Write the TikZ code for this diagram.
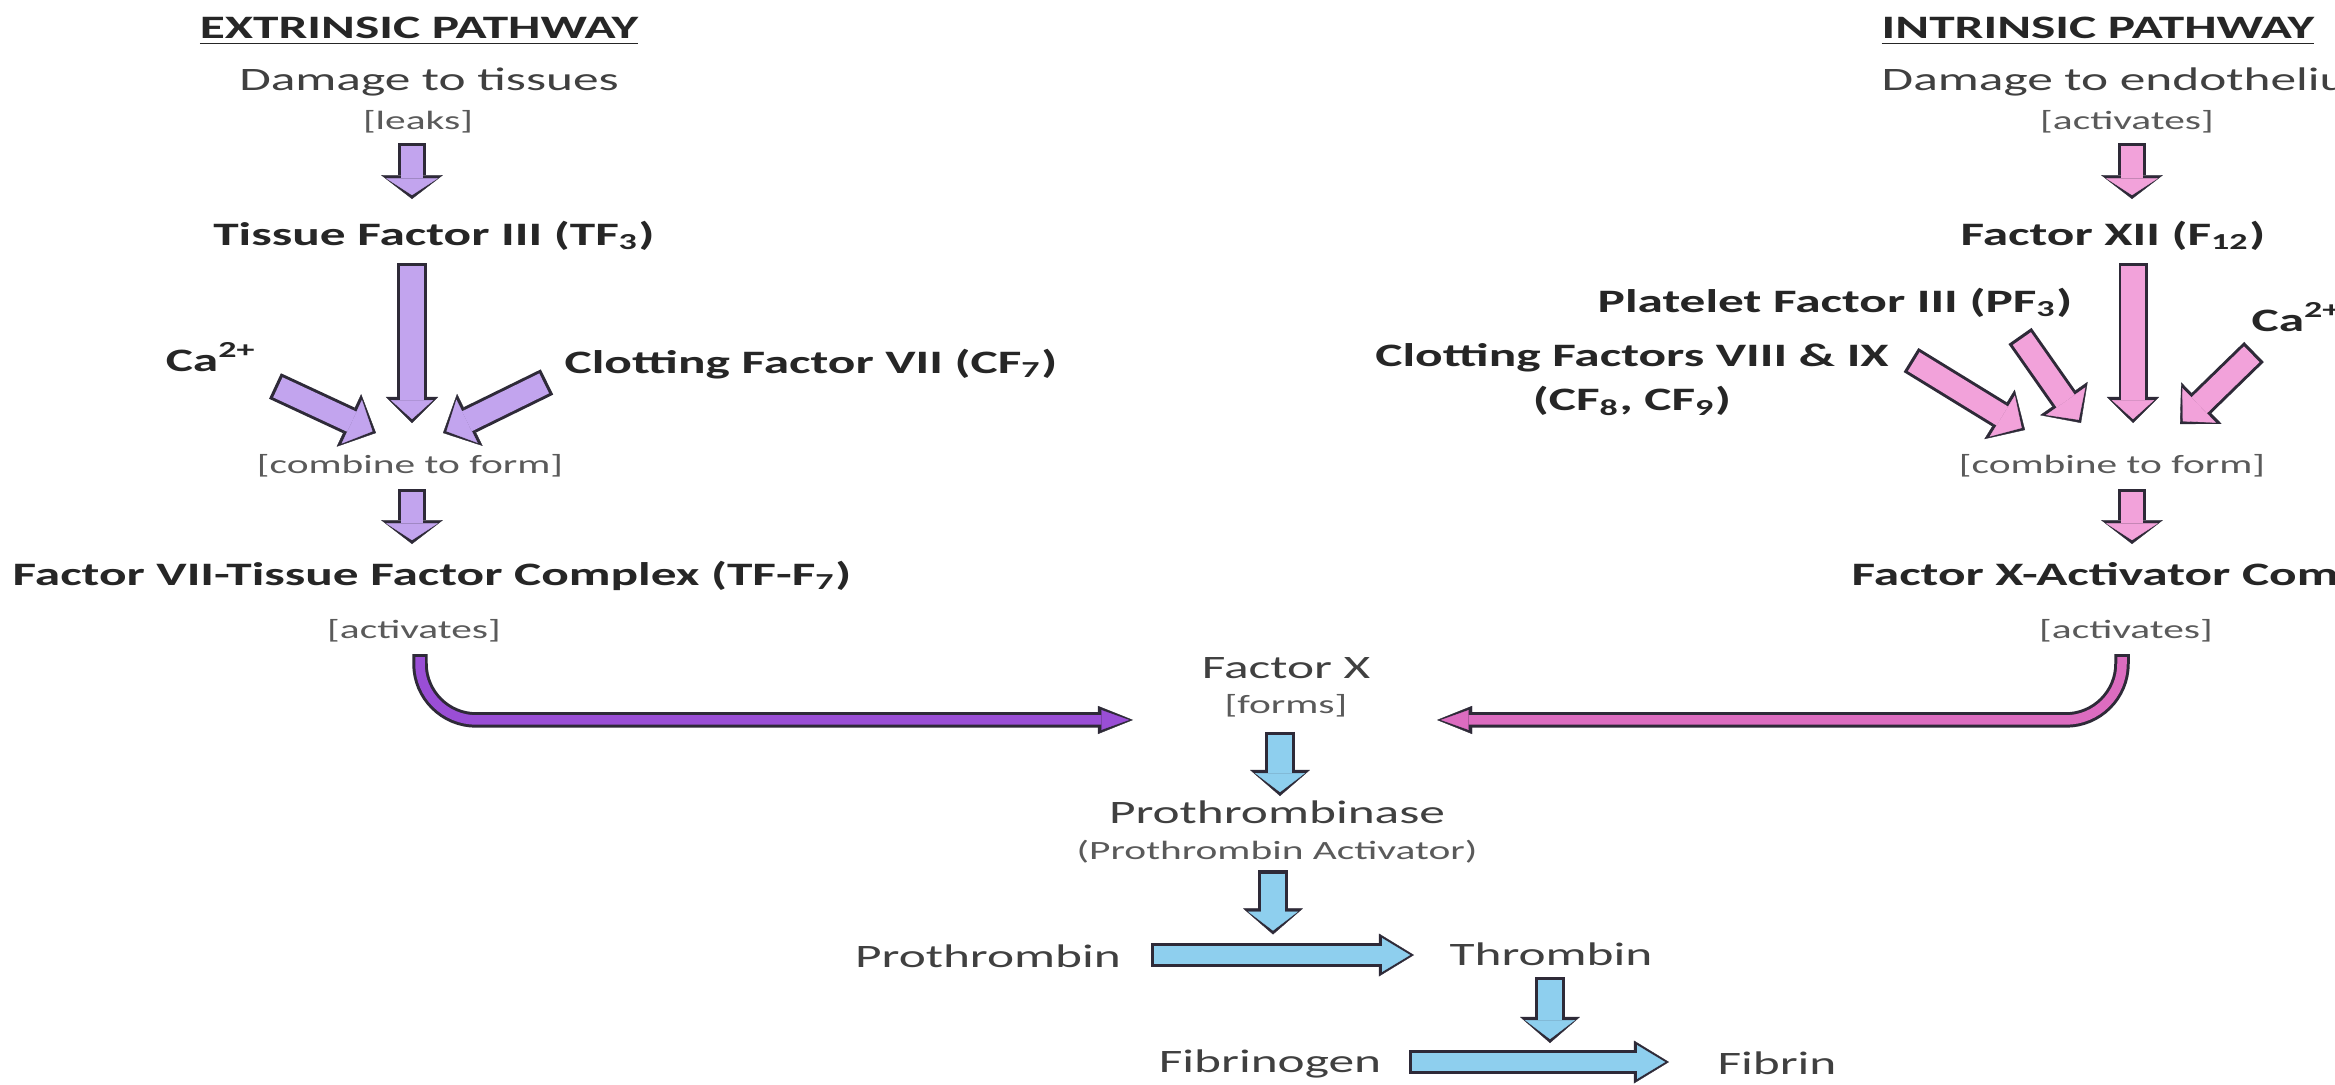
\documentclass[tikz,border=0pt]{standalone}
\usepackage{fontspec}
\setmainfont{Carlito}[FakeStretch=1.57]
\usetikzlibrary{arrows.meta,calc,positioning}
\definecolor{edge}{HTML}{2E2A38}
\definecolor{lav}{HTML}{C2A4EE}
\definecolor{plum}{HTML}{9A4ED6}
\definecolor{rose}{HTML}{F2A2DA}
\definecolor{magen}{HTML}{DC6CC0}
\definecolor{sky}{HTML}{8ECFEE}
\definecolor{ink}{HTML}{262626}
\definecolor{txtgray}{HTML}{404040}
\definecolor{brkgray}{HTML}{5A5A5A}

\begin{document}
\begin{tikzpicture}[x=0.01cm, y=-0.01cm,
  lbl/.style={inner sep=0pt, text=txtgray, font=\fontsize{9.3}{11}\selectfont, text height=7pt, text depth=2.3pt},
  lblb/.style={lbl, text=ink, font=\fontsize{9.3}{12.5}\selectfont\bfseries},
  brk/.style={lbl, text=brkgray, font=\fontsize{7.5}{9}\selectfont, text height=5.6pt, text depth=1.9pt},
  fat/.style n args={7}{draw=#7, line width=#2, shorten <=0.9pt, shorten >=1.1pt,
    -{Triangle[width=#5, length=#6, line width=0.1pt]},
    preaction={draw=edge, line width=#1, shorten <=0pt, shorten >=0pt,
      -{Triangle[width=#3, length=#4, line width=0.1pt]}}},
  vs/.style={fat={7.7pt}{6pt}{17.6pt}{6.8pt}{14.8pt}{4.8pt}{#1}},
  vl/.style={fat={8.25pt}{6.55pt}{14.8pt}{7.4pt}{12pt}{5.4pt}{#1}},
  dg/.style={fat={8pt}{6.3pt}{16.5pt}{8.5pt}{13.7pt}{6.5pt}{#1}},
  bv/.style={fat={8.5pt}{6.8pt}{17pt}{7.4pt}{14.2pt}{5.4pt}{sky}},
  bh/.style={fat={6.8pt}{5.1pt}{12.2pt}{10pt}{9.6pt}{8pt}{sky}},
  cv/.style={fat={4.4pt}{2.7pt}{8pt}{10pt}{5.6pt}{7.9pt}{#1}, rounded corners=16pt}]

  \useasboundingbox (0,0) rectangle (2335,1084);
  \fill[white] (0,0) rectangle (2335,1084);

  % extrinsic side
  \node[lblb] (ttlE) at (419,30) {\underline{EXTRINSIC PATHWAY}};
  \node[lbl] (dmgE) at (429,82) {Damage to tissues};
  \node[brk] (leaks) at (418,123) {[leaks]};
  \node[lblb] (tf3) at (434,237) {Tissue Factor III (TF\textsubscript{3})};
  \node[lblb] (caE) at (211,363) {Ca\textsuperscript{2+}};
  \node[lblb] (cf7) at (811,365) {Clotting Factor VII (CF\textsubscript{7})};
  \node[brk] (combE) at (410,467) {[combine to form]};
  \node[lblb] (cplxE) at (432,577) {Factor VII-Tissue Factor Complex (TF-F\textsubscript{7})};
  \node[brk] (actE) at (414,632) {[activates]};

  % intrinsic side
  \node[lblb, anchor=west] (ttlI) at (1881,30) {\underline{INTRINSIC PATHWAY}};
  \node[lbl, anchor=west] (dmgI) at (1881,82) {Damage to endothelium};
  \node[brk] (actI) at (2127,123) {[activates]};
  \node[lblb] (f12) at (2113,237) {Factor XII (F\textsubscript{12})};
  \node[lblb] (pf3) at (1835,304) {Platelet Factor III (PF\textsubscript{3})};
  \node[lblb, anchor=west] (caI) at (2251,323) {Ca\textsuperscript{2+}};
  \node[lblb, align=center, text height=, text depth=] (cf89) at (1632,380) {Clotting Factors VIII \& IX\\(CF\textsubscript{8}, CF\textsubscript{9})};
  \node[brk] (combI) at (2112,467) {[combine to form]};
  \node[lblb, anchor=west] (cplxI) at (1851,577) {Factor X-Activator Complex};
  \node[brk] (actI2) at (2126,632) {[activates]};

  % common pathway
  \node[lbl] (fx) at (1286,670) {Factor X};
  \node[brk, below=0.6mm of fx] (forms) {[forms]};
  \node[lbl] (ptase) at (1277,815) {Prothrombinase};
  \node[brk, below=0.75mm of ptase] (ptact) {(Prothrombin Activator)};
  \node[lbl] (pthr) at (988,959) {Prothrombin};
  \node[lbl] (thr) at (1551,957) {Thrombin};
  \node[lbl] (fgen) at (1270,1064) {Fibrinogen};
  \node[lbl] (fib) at (1777,1066) {Fibrin};

  % purple arrows
  \draw[vs=lav] ($(leaks)+(-6,20)$) -- ($(tf3)+(-22,-38)$);
  \draw[vl=lav] ($(tf3)+(-22,26)$) -- ($(combE)+(2,-44)$);
  \draw[dg=lav] ($(caE)+(64,23)$) -- ($(combE)+(-34,-34)$);
  \draw[dg=lav] ($(cf7)+(-264,17)$) -- ($(combE)+(33,-34)$);
  \draw[vs=lav] ($(combE)+(2,22)$) -- ($(cplxE)+(-20,-33)$);
  \draw[cv=plum] ($(actE)+(6,22)$) |- ($(forms)+(-153,13)$);

  % pink arrows
  \draw[vs=rose] ($(actI)+(5,20)$) -- ($(f12)+(19,-38)$);
  \draw[vl=rose] ($(f12)+(20,26)$) -- ($(combI)+(21,-44)$);
  \draw[dg=rose] ($(pf3)+(185,32)$) -- ($(combI)+(-31,-44)$);
  \draw[dg=rose] ($(cf89)+(279,-20)$) -- ($(combI)+(-87,-37)$);
  \draw[dg=rose] ($(caI.west)+(3,29)$) -- ($(combI)+(68,-43)$);
  \draw[vs=rose] ($(combI)+(20,22)$) -- ($(cplxI.west)+(281,-33)$);
  \draw[cv=magen] ($(actI2)+(-4,22)$) |- ($(forms)+(151,13)$);

  % blue arrows
  \draw[bv] ($(forms)+(-6,25)$) -- ($(ptase)+(3,-19)$);
  \draw[bv] ($(ptact)+(-4,17)$) -- ($(ptact)+(-4,81)$);
  \draw[bh] ($(pthr)+(163,-4)$) -- ($(thr)+(-137,-2)$);
  \draw[bv] ($(thr)+(-1,20)$) -- ($(thr)+(-1,86)$);
  \draw[bh] ($(fgen)+(139,-2)$) -- ($(fib)+(-108,-4)$);
\end{tikzpicture}
\end{document}
